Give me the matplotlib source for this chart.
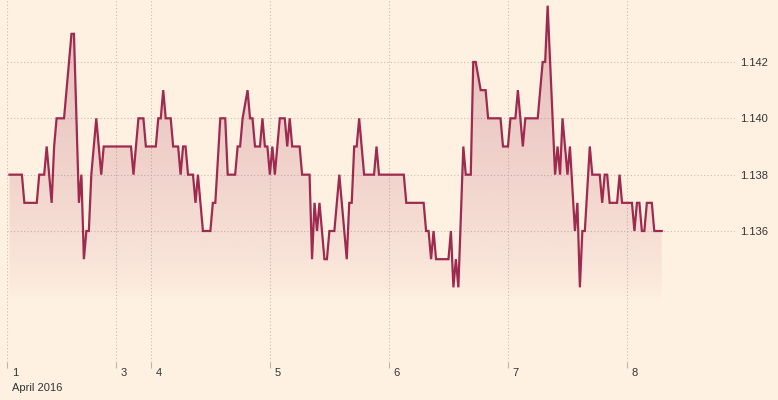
import numpy as np
import matplotlib
matplotlib.use("Agg")
import matplotlib.pyplot as plt
from matplotlib.colors import to_rgb

# ---- data (time in half-hour steps of trading time, EUR/USD-like rate) ----
t_halfhours = [1, 6, 7, 12, 13, 15, 16, 18, 19, 20, 23, 24, 25, 26, 27, 29, 30, 31, 32, 33,
               34, 36, 38, 39, 50, 51, 53, 55, 56, 60, 61, 62, 63, 64, 66, 67, 69, 70, 71, 72,
               73, 75, 76, 77, 78, 79, 82, 83, 84, 86, 88, 89, 92, 93, 94, 95, 97, 98, 99, 100,
               102, 103, 104, 105, 106, 107, 108, 110, 112, 113, 114, 115, 118, 119, 122, 123,
               124, 125, 126, 128, 129, 130, 132, 134, 137, 138, 139, 140, 141, 142, 144, 148,
               149, 150, 160, 161, 168, 169, 170, 171, 172, 173, 178, 179, 180, 181, 182, 184,
               185, 187, 188, 189, 191, 193, 194, 199, 200, 202, 203, 205, 206, 208, 209, 214,
               216, 217, 218, 221, 222, 223, 224, 226, 227, 229, 230, 231, 232, 233, 235, 236,
               239, 240, 241, 242, 243, 246, 247, 248, 252, 253, 254, 255, 256, 257, 258, 260,
               261, 264]
rate = [1.138, 1.138, 1.137, 1.137, 1.138, 1.138, 1.139, 1.137, 1.139, 1.140, 1.140, 1.141,
        1.142, 1.143, 1.143, 1.137, 1.138, 1.135, 1.136, 1.136, 1.138, 1.140, 1.138, 1.139,
        1.139, 1.138, 1.140, 1.140, 1.139, 1.139, 1.140, 1.140, 1.141, 1.140, 1.140, 1.139,
        1.139, 1.138, 1.139, 1.139, 1.138, 1.138, 1.137, 1.138, 1.137, 1.136, 1.136, 1.137,
        1.137, 1.140, 1.140, 1.138, 1.138, 1.139, 1.139, 1.140, 1.141, 1.140, 1.140, 1.139,
        1.139, 1.140, 1.139, 1.139, 1.138, 1.139, 1.138, 1.140, 1.140, 1.139, 1.140, 1.139,
        1.139, 1.138, 1.138, 1.135, 1.137, 1.136, 1.137, 1.135, 1.135, 1.136, 1.136, 1.138,
        1.135, 1.137, 1.137, 1.139, 1.139, 1.140, 1.138, 1.138, 1.139, 1.138, 1.138, 1.137,
        1.137, 1.136, 1.136, 1.135, 1.136, 1.135, 1.135, 1.136, 1.134, 1.135, 1.134, 1.139,
        1.138, 1.138, 1.142, 1.142, 1.141, 1.141, 1.140, 1.140, 1.139, 1.139, 1.140, 1.140,
        1.141, 1.139, 1.140, 1.140, 1.142, 1.142, 1.144, 1.138, 1.139, 1.138, 1.140, 1.138,
        1.139, 1.136, 1.137, 1.134, 1.136, 1.136, 1.139, 1.138, 1.138, 1.137, 1.138, 1.138,
        1.137, 1.137, 1.138, 1.137, 1.137, 1.136, 1.137, 1.137, 1.136, 1.136, 1.137, 1.137,
        1.136, 1.136]

day_ticks = [0, 44, 58, 106, 154, 202, 250]
day_labels = ["1", "3", "4", "5", "6", "7", "8"]
y_ticks = [1.136, 1.138, 1.140, 1.142]
y_labels = ["1.136", "1.138", "1.140", "1.142"]
month_label = "April 2016"

# ---- style ----
BG = "#fff1e2"
LINE = "#9e2a4f"
GRID = "#c9bdb1"
TXT = "#333333"
plt.rcParams["font.family"] = ["Liberation Sans", "DejaVu Sans"]

fig = plt.figure(figsize=(7.78, 4.0), dpi=100, facecolor=BG)
ax = fig.add_axes([7 / 778, 1 - 362 / 400, (735 - 7) / 778, 362 / 400])
ax.set_facecolor(BG)

xmin, xmax = 0, (735 - 7) / 2.48
ymin, ymax = 1.13135, 1.1442
ax.set_xlim(xmin, xmax)
ax.set_ylim(ymin, ymax)

x = np.array(t_halfhours, dtype=float)
y = np.array(rate)

# gradient fill under the line
poly = ax.fill_between(x, y, ymin, facecolor="none", edgecolor="none")
n = 300
vals = np.linspace(ymin, ymax, n)
ratio = np.clip((vals - 1.1335) / (ymax - 1.1335), 0, 1)
alpha = 0.27 * ratio ** 0.7
rgb = to_rgb(LINE)
grad = np.zeros((n, 1, 4))
grad[:, 0, 0], grad[:, 0, 1], grad[:, 0, 2] = rgb
grad[:, 0, 3] = alpha
im = ax.imshow(grad, extent=[xmin, xmax, ymin, ymax], origin="lower",
               aspect="auto", zorder=1, interpolation="bilinear")
im.set_clip_path(poly.get_paths()[0], transform=ax.transData)

ax.plot(x, y, color=LINE, lw=1.6, zorder=3, solid_joinstyle="miter")

# grid
for v in y_ticks:
    ax.axhline(v, color=GRID, lw=0.8, ls=(0, (1, 2)), zorder=0)
for d in day_ticks:
    ax.axvline(d, color=GRID, lw=0.8, ls=(0, (1, 2)), zorder=0)

for s in ax.spines.values():
    s.set_visible(False)

# y axis on right
ax.yaxis.tick_right()
ax.set_yticks(y_ticks)
ax.set_yticklabels(y_labels)
ax.tick_params(axis="y", length=0, pad=4, labelsize=8, labelcolor=TXT)

# x axis ticks (marks only), labels placed left-aligned to the right of each tick
ax.set_xticks(day_ticks)
ax.set_xticklabels([""] * len(day_ticks))
ax.tick_params(axis="x", length=4, width=0.8, color="#bdb3a8", direction="out")
for d, lab in zip(day_ticks, day_labels):
    ax.annotate(lab, xy=(d, 0), xycoords=("data", "axes fraction"),
                xytext=(3.5, -8), textcoords="offset points",
                ha="left", va="center", fontsize=8, color=TXT)
ax.annotate(month_label, xy=(day_ticks[0], 0), xycoords=("data", "axes fraction"),
            xytext=(3.5, -19), textcoords="offset points",
            ha="left", va="center", fontsize=8, color=TXT)

fig.savefig("out.png", dpi=100, facecolor=BG)
